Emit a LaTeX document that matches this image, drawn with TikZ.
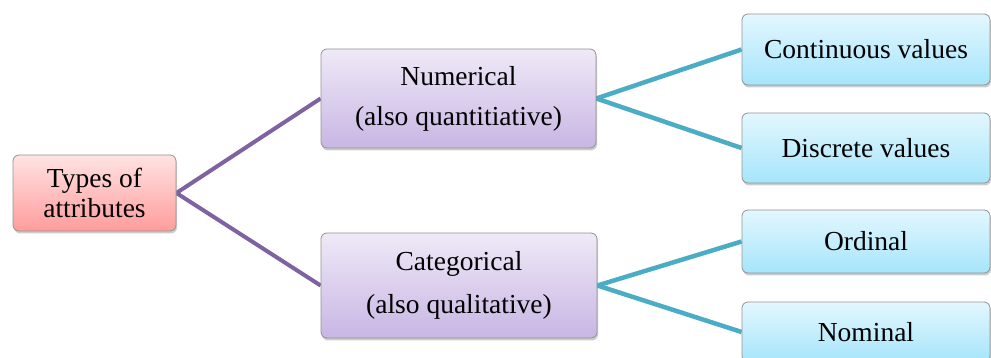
\documentclass[tikz,border=0pt]{standalone}
\usepackage{fontspec}
\setmainfont{Liberation Serif}
\usetikzlibrary{shadows,backgrounds}
\definecolor{pinktop}{HTML}{FFE3E3}
\definecolor{pinkbot}{HTML}{FF9C9C}
\definecolor{lilactop}{HTML}{EFE9F7}
\definecolor{lilacbot}{HTML}{C8B6E4}
\definecolor{skytop}{HTML}{E3F7FE}
\definecolor{skybot}{HTML}{A6E5FB}
\definecolor{lilacline}{HTML}{7E62A1}
\definecolor{tealline}{HTML}{4BACC6}
\begin{document}
\begin{tikzpicture}[x=1pt,y=1pt,
 box/.style={draw=gray!85,line width=.8pt,rounded corners=6pt,align=center,inner sep=0pt,
  font=\fontsize{27.5}{30}\selectfont,drop shadow={shadow xshift=1pt,shadow yshift=-2.5pt,opacity=.4}},
 rootbox/.style={box,top color=pinktop,bottom color=pinkbot},
 midbox/.style={box,top color=lilactop,bottom color=lilacbot},
 leafbox/.style={box,top color=skytop,bottom color=skybot,minimum width=248pt},
 upline/.style={draw=lilacline,line width=4pt},
 downline/.style={draw=tealline,line width=4.5pt}]
 \useasboundingbox (0,0) rectangle (991,358);
 \node[rootbox,minimum width=163pt,minimum height=76pt] (types) at (94.5,165) {Types of\\attributes};
 \node[midbox,minimum width=275pt,minimum height=99pt] (num) at (458.5,259.5) {Numerical\\[10pt](also quantitiative)};
 \node[midbox,minimum width=276pt,minimum height=105pt] (cat) at (459,72.5) {Categorical\\[13pt](also qualitative)};
 \foreach \n/\y/\h/\t in {cont/308.5/71/Continuous values,disc/210/70/Discrete values,ord/116.5/63/Ordinal,nom/26/60/Nominal}{\node[leafbox,minimum height=\h pt] (\n) at (866,\y) {\t};}
 \begin{scope}[on background layer]
 \foreach \m in {num,cat}{\draw[upline] (types.east) -- (\m.west);}
 \foreach \a/\b in {num/cont,num/disc,cat/ord,cat/nom}{\draw[downline] (\a.east) -- (\b.west);}
 \end{scope}
\end{tikzpicture}
\end{document}
